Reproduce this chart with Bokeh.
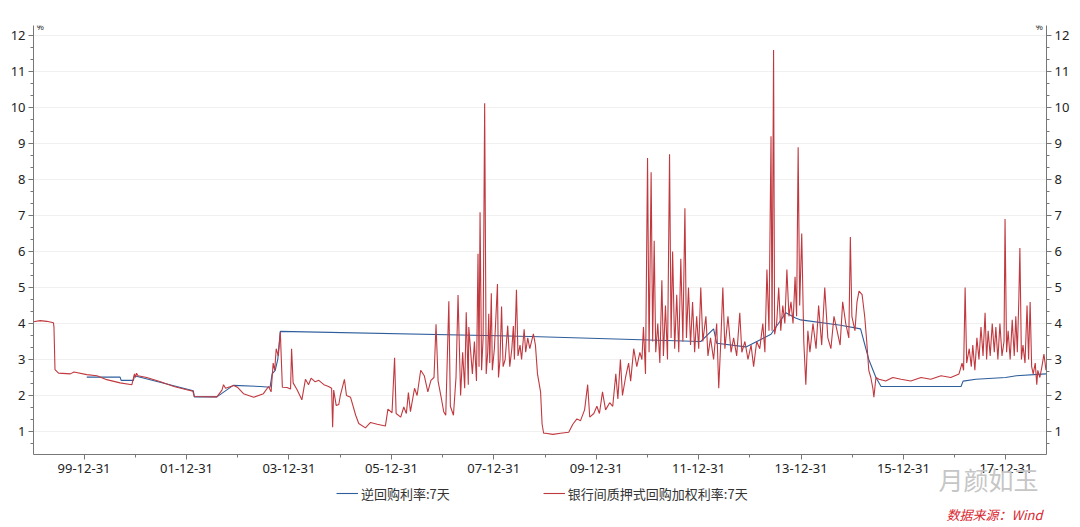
import numpy as np
import pandas as pd
from bokeh.plotting import figure
from bokeh.layouts import column
from bokeh.models import (ColumnDataSource, LinearAxis, Range1d, FixedTicker, Legend,
                          LegendItem, Label, DatetimeTickFormatter)
from bokeh.embed import file_html
from bokeh.resources import INLINE

# ---------------- data (decimal year, %) ----------------
red_t_1999_2016 = [
    1999.01, 1999.14, 1999.27, 1999.40, 1999.41, 1999.43, 1999.50, 1999.73, 1999.80, 2000.05,
    2000.25, 2000.44, 2000.70, 2000.93, 2000.98, 2001.00, 2001.02, 2001.05, 2001.22, 2001.49,
    2001.75, 2002.00, 2002.12, 2002.15, 2002.59, 2002.69, 2002.72, 2002.76, 2002.92, 2003.00,
    2003.11, 2003.31, 2003.50, 2003.60, 2003.65, 2003.69, 2003.72, 2003.75, 2003.79, 2003.83,
    2003.87, 2003.96, 2004.03, 2004.05, 2004.08, 2004.16, 2004.25, 2004.32, 2004.38, 2004.43,
    2004.51, 2004.58, 2004.68, 2004.77, 2004.83, 2004.85, 2004.87, 2004.92, 2004.97, 2005.00,
    2005.08, 2005.12, 2005.20, 2005.30, 2005.36, 2005.49, 2005.59, 2005.72, 2005.88, 2005.93,
    2006.01, 2006.06, 2006.09, 2006.18, 2006.24, 2006.29, 2006.33, 2006.37, 2006.45, 2006.50,
    2006.57, 2006.64, 2006.71, 2006.77, 2006.83, 2006.87, 2006.91, 2006.97, 2007.02, 2007.06,
    2007.12, 2007.15, 2007.21, 2007.26, 2007.30, 2007.35, 2007.39, 2007.43, 2007.46, 2007.50,
    2007.51, 2007.58, 2007.62, 2007.66, 2007.69, 2007.71, 2007.73, 2007.76, 2007.79, 2007.82,
    2007.85, 2007.88, 2007.90, 2007.92, 2007.95, 2007.97, 2008.01, 2008.07, 2008.09, 2008.12,
    2008.15, 2008.18, 2008.22, 2008.27, 2008.31, 2008.35, 2008.38, 2008.40, 2008.44, 2008.47,
    2008.51, 2008.54, 2008.59, 2008.62, 2008.66, 2008.70, 2008.77, 2008.81, 2008.85, 2008.91,
    2008.94, 2008.97, 2009.01, 2009.15, 2009.30, 2009.46, 2009.54, 2009.62, 2009.69, 2009.77,
    2009.83, 2009.87, 2009.95, 2010.01, 2010.06, 2010.12, 2010.18, 2010.26, 2010.32, 2010.38,
    2010.42, 2010.47, 2010.51, 2010.57, 2010.63, 2010.67, 2010.73, 2010.79, 2010.85, 2010.89,
    2010.92, 2010.96, 2011.00, 2011.03, 2011.07, 2011.10, 2011.13, 2011.16, 2011.20, 2011.24,
    2011.28, 2011.31, 2011.35, 2011.39, 2011.43, 2011.46, 2011.49, 2011.53, 2011.57, 2011.61,
    2011.65, 2011.69, 2011.73, 2011.76, 2011.80, 2011.84, 2011.88, 2011.92, 2011.96, 2012.00,
    2012.04, 2012.08, 2012.14, 2012.18, 2012.23, 2012.29, 2012.35, 2012.39, 2012.43, 2012.47,
    2012.51, 2012.57, 2012.63, 2012.68, 2012.74, 2012.80, 2012.84, 2012.90, 2012.96, 2013.02,
    2013.07, 2013.13, 2013.19, 2013.25, 2013.29, 2013.33, 2013.37, 2013.41, 2013.43, 2013.46,
    2013.48, 2013.52, 2013.56, 2013.60, 2013.64, 2013.68, 2013.72, 2013.76, 2013.80, 2013.84,
    2013.88, 2013.91, 2013.94, 2013.97, 2014.01, 2014.05, 2014.09, 2014.13, 2014.17, 2014.23,
    2014.29, 2014.34, 2014.40, 2014.46, 2014.52, 2014.58, 2014.64, 2014.70, 2014.76, 2014.81,
    2014.87, 2014.93, 2014.96, 2014.99, 2015.05, 2015.09, 2015.13, 2015.19, 2015.24, 2015.28,
    2015.32, 2015.36, 2015.40, 2015.42, 2015.46, 2015.52, 2015.65, 2015.79, 2015.95, 2016.14,
    2016.34, 2016.53, 2016.73, 2016.92]
red_v_1999_2016 = [
    4.05, 4.08, 4.06, 4.02, 3.90, 2.72, 2.62, 2.60, 2.65, 2.58,
    2.55, 2.44, 2.35, 2.30, 2.60, 2.50, 2.62, 2.55, 2.50, 2.38,
    2.25, 2.16, 2.12, 1.97, 1.96, 2.15, 2.30, 2.20, 2.28, 2.22,
    2.05, 1.95, 2.05, 2.25, 2.10, 2.90, 2.70, 3.30, 3.10, 3.76,
    2.23, 2.22, 2.18, 3.30, 2.35, 2.15, 1.88, 2.45, 2.30, 2.48,
    2.38, 2.42, 2.30, 2.25, 2.20, 1.12, 2.15, 1.72, 1.75, 2.00,
    2.45, 2.00, 1.95, 1.45, 1.22, 1.10, 1.25, 1.20, 1.15, 1.62,
    1.52, 3.05, 1.50, 1.40, 1.68, 1.50, 2.08, 1.55, 2.20, 2.00,
    2.70, 2.55, 2.10, 2.42, 2.50, 3.98, 2.40, 1.95, 1.55, 1.45,
    4.62, 1.70, 1.45, 2.50, 4.79, 2.00, 3.20, 2.20, 4.31, 2.30,
    3.90, 2.60, 3.50, 2.40, 5.94, 2.80, 7.09, 2.70, 3.60, 10.12,
    2.60, 3.20, 4.27, 2.90, 4.84, 2.70, 3.30, 5.10, 2.50, 3.00,
    4.47, 2.80, 3.00, 3.94, 2.80, 3.30, 3.93, 3.00, 4.94, 3.10,
    3.40, 3.00, 3.84, 3.20, 3.60, 3.30, 3.71, 3.40, 2.60, 2.10,
    1.20, 0.95, 0.95, 0.92, 0.95, 0.98, 1.20, 1.35, 1.30, 1.60,
    2.30, 1.40, 1.50, 1.70, 1.50, 2.10, 1.60, 1.80, 1.70, 2.60,
    1.90, 3.00, 2.00, 2.50, 2.90, 2.40, 3.30, 2.80, 3.20, 3.00,
    3.90, 2.60, 8.60, 3.20, 8.20, 3.50, 6.30, 3.20, 4.00, 2.90,
    5.20, 3.10, 4.50, 3.00, 8.70, 3.60, 6.00, 3.30, 4.80, 3.20,
    5.80, 3.50, 7.20, 3.60, 5.00, 3.40, 4.60, 3.20, 4.20, 3.30,
    5.00, 3.50, 4.20, 3.10, 3.60, 3.00, 4.00, 2.20, 3.50, 5.00,
    3.30, 4.20, 3.20, 3.60, 3.10, 4.30, 3.20, 3.50, 3.00, 3.40,
    2.80, 3.50, 3.30, 4.00, 3.20, 5.50, 3.80, 9.20, 3.80, 11.60,
    3.70, 4.00, 5.00, 3.80, 4.50, 4.00, 5.50, 4.20, 4.60, 4.00,
    5.30, 4.20, 8.90, 4.50, 6.50, 3.50, 2.30, 3.80, 3.20, 4.00,
    3.30, 4.50, 3.40, 5.00, 3.60, 3.30, 4.20, 3.80, 3.40, 4.60,
    4.00, 3.60, 6.40, 4.20, 3.80, 4.60, 4.90, 4.80, 4.20, 3.50,
    2.70, 2.50, 2.20, 1.95, 2.50, 2.45, 2.40, 2.50, 2.45, 2.40,
    2.50, 2.45, 2.55, 2.50]

red_t_2017_2018 = [
    2017.08, 2017.14, 2017.17, 2017.20, 2017.23, 2017.28, 2017.32, 2017.35, 2017.39, 2017.43,
    2017.47, 2017.51, 2017.55, 2017.59, 2017.62, 2017.65, 2017.69, 2017.73, 2017.77, 2017.80,
    2017.84, 2017.88, 2017.92, 2017.96, 2017.98, 2018.01, 2018.04, 2018.08, 2018.12, 2018.16,
    2018.19, 2018.22, 2018.25, 2018.27, 2018.30, 2018.33, 2018.37, 2018.41, 2018.44, 2018.47,
    2018.50, 2018.53, 2018.57, 2018.60, 2018.62, 2018.66, 2018.70, 2018.74, 2018.78]
red_v_2017_2018 = [
    2.60, 2.90, 2.70, 5.00, 2.90, 3.30, 2.80, 3.40, 2.70, 3.60,
    3.00, 3.90, 3.10, 4.30, 3.00, 3.80, 3.10, 4.00, 3.20, 3.90,
    3.00, 4.00, 3.10, 3.50, 6.90, 3.20, 3.80, 3.00, 4.10, 3.10,
    4.20, 3.20, 4.70, 6.10, 3.00, 3.40, 2.90, 4.50, 3.00, 4.60,
    2.80, 2.60, 2.90, 2.30, 2.70, 2.50, 2.80, 3.15, 2.70]

blue_t = [2000.05, 2000.70, 2000.72, 2000.96, 2000.98, 2002.13, 2002.15, 2002.59, 2002.91, 2003.44,
          2003.63, 2003.67, 2003.73, 2003.78, 2003.83, 2008.72, 2010.87, 2012.04, 2012.29, 2012.35,
          2012.92, 2013.41, 2013.70, 2013.89, 2013.99, 2014.77, 2015.16, 2015.32, 2015.46, 2015.56,
          2017.12, 2017.16, 2017.41, 2017.99, 2018.20, 2018.78]
blue_v = [2.51, 2.51, 2.42, 2.42, 2.55, 2.13, 1.96, 1.96, 2.28, 2.25,
          2.23, 2.60, 2.70, 3.00, 3.78, 3.64, 3.55, 3.50, 3.85, 3.45,
          3.35, 3.70, 4.30, 4.15, 4.10, 3.95, 3.85, 3.00, 2.50, 2.25,
          2.25, 2.40, 2.45, 2.50, 2.55, 2.60]

y_ticks = list(range(1, 13))
x_tick_years = list(range(1999, 2018, 2))     # labelled Dec-31 ticks
x_minor_years = list(range(2000, 2018, 2))
series_names = ["逆回购利率:7天", "银行间质押式回购加权利率:7天"]
watermark = "月颜如玉"
source_note = "数据来源：Wind"
RED = "#C0393F"
BLUE = "#2E5E9C"
CJK = "Noto Sans CJK SC"


def yr(t):
    y = int(np.floor(t))
    s = pd.Timestamp(year=y, month=1, day=1)
    e = pd.Timestamp(year=y + 1, month=1, day=1)
    return s + (e - s) * (t - y)


def ms(ts):
    return ts.value / 1e6


red_t = red_t_1999_2016 + red_t_2017_2018
red_v = red_v_1999_2016 + red_v_2017_2018
red_src = ColumnDataSource(dict(x=[yr(t) for t in red_t], y=red_v))
blue_src = ColumnDataSource(dict(x=[yr(t) for t in blue_t], y=blue_v))

# ---------------- main chart ----------------
p = figure(width=1080, height=484, x_axis_type="datetime",
           x_range=Range1d(yr(1999.01), yr(2018.79)), y_range=Range1d(0.36, 12.28),
           output_backend="svg", toolbar_location=None,
           min_border_left=33, min_border_right=34, min_border_top=25, min_border_bottom=30)
p.outline_line_color = None
p.background_fill_color = "white"
p.border_fill_color = "white"

p.line("x", "y", source=blue_src, color=BLUE, line_width=1.1)
p.line("x", "y", source=red_src, color=RED, line_width=1.1)

xt = [ms(pd.Timestamp(year=y, month=12, day=31)) for y in x_tick_years]
xm = [ms(pd.Timestamp(year=y, month=12, day=31)) for y in x_minor_years]
xa = p.xaxis[0]
xa.ticker = FixedTicker(ticks=xt, minor_ticks=xm)
fmt = "%y-%m-%d"
xa.formatter = DatetimeTickFormatter(days=fmt, months=fmt, years=fmt, hours=fmt, minutes=fmt,
                                     seconds=fmt, milliseconds=fmt, microseconds=fmt, minsec=fmt,
                                     hourmin=fmt)
xa.major_tick_out = 5
xa.major_tick_in = 0
xa.minor_tick_out = 3
xa.minor_tick_in = 0
xa.axis_line_color = "#777777"
xa.major_tick_line_color = "#777777"
xa.minor_tick_line_color = "#777777"
xa.major_label_text_font = "Noto Sans"
xa.major_label_text_font_size = "13px"
xa.major_label_text_color = "#222222"
xa.major_label_standoff = 4

ym = [k + j / 3 for k in range(0, 13) for j in (1, 2) if 0.36 < k + j / 3 < 12.28]
ya = p.yaxis[0]
ra = LinearAxis()
p.add_layout(ra, "right")
for ax in (ya, ra):
    ax.ticker = FixedTicker(ticks=y_ticks, minor_ticks=ym)
    ax.major_tick_out = 5
    ax.major_tick_in = 0
    ax.minor_tick_out = 3
    ax.minor_tick_in = 0
    ax.axis_line_color = "#777777"
    ax.major_tick_line_color = "#777777"
    ax.minor_tick_line_color = "#777777"
    ax.major_label_text_font = "Noto Sans"
    ax.major_label_text_font_size = "13px"
    ax.major_label_text_color = "#222222"
    ax.major_label_standoff = 3

p.xgrid.grid_line_color = None
p.ygrid.ticker = FixedTicker(ticks=y_ticks)
p.ygrid.grid_line_color = "#f0f0f0"

p.add_layout(Label(x=3, y=422, x_units="screen", y_units="screen", text="%",
                   text_font_size="9px", text_color="#333333", text_font="Noto Sans"))
p.add_layout(Label(x=1002, y=422, x_units="screen", y_units="screen", text="%",
                   text_font_size="9px", text_color="#333333", text_font="Noto Sans"))

# ---------------- footer strip (legend, watermark, source), overlaps the chart bottom ----------------
# (its frame is aligned with the chart frame, i.e. starts at page x = 33)
f = figure(width=1080, height=67, x_range=Range1d(0, 1), y_range=Range1d(0, 1),
           output_backend="svg", toolbar_location=None, x_axis_location=None, y_axis_location=None,
           min_border=0, min_border_left=0, min_border_right=0, min_border_top=0,
           min_border_bottom=0, margin=(-24, 0, 0, 0))
f.outline_line_color = None
f.background_fill_color = None
f.border_fill_color = None
f.grid.visible = False

# legend-only renderers, kept outside the visible range of the strip
lb = f.line(x=[-2, -1], y=[-2, -2], color=BLUE, line_width=1.1)
lr = f.line(x=[-2, -1], y=[-2, -2], color=RED, line_width=1.1)
legend = Legend(items=[LegendItem(label=series_names[0], renderers=[lb]),
                       LegendItem(label=series_names[1], renderers=[lr])],
                orientation="horizontal", location=(303, 24), glyph_width=22, glyph_height=20,
                label_height=20, label_standoff=3, spacing=93, padding=0, margin=0,
                label_text_font=CJK, label_text_font_size="13px", label_text_color="#333333",
                border_line_color=None, background_fill_alpha=0)
f.add_layout(legend, "center")

f.add_layout(Label(x=905, y=31, x_units="screen", y_units="screen", text=watermark,
                   text_font=CJK, text_font_size="25px", text_color="#c6c6c6"))
f.add_layout(Label(x=913, y=4, x_units="screen", y_units="screen", text=source_note,
                   text_font=CJK, text_font_size="13px", text_color="#d8262f",
                   text_font_style="italic"))

page = column(p, f, spacing=0)
open("out.html", "w").write(file_html(page, INLINE))
